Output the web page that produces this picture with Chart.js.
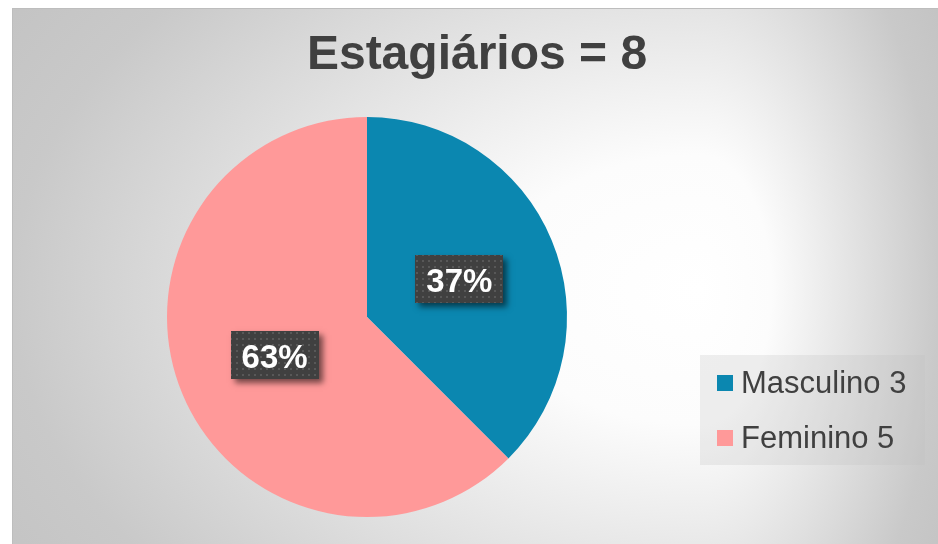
<!DOCTYPE html>
<html>
<head>
<meta charset="utf-8">
<script src="https://cdn.jsdelivr.net/npm/chart.js@4"></script>
<style>
  html, body { margin: 0; padding: 0; background: #fff; }
  #wrap { width: 938px; height: 544px; }
</style>
</head>
<body>
<div id="wrap"><canvas id="grafico" width="938" height="544"></canvas></div>
<script>
  // ===== Datos =====
  const tituloTexto = "Estagiários = 8";
  const categorias = ["Masculino", "Feminino"];
  const valores = [3, 5];
  const etiquetasPct = ["37%", "63%"];
  const colores = ["#0B87B0", "#FF9999"];

  const FONT = "'Liberation Sans', Arial, sans-serif";

  // patrón punteado para las etiquetas
  function crearPatron(ctx) {
    const c = document.createElement("canvas");
    c.width = 6;
    c.height = 6;
    const p = c.getContext("2d");
    p.fillStyle = "#404040";
    p.fillRect(0, 0, 6, 6);
    p.fillStyle = "#585858";
    p.fillRect(2, 2, 2, 2);
    return ctx.createPattern(c, "repeat");
  }

  // degradado "desde el centro", elíptico, más estrecho a la derecha
  const fondoPlugin = {
    id: "fondo",
    beforeDraw(chart) {
      const ctx = chart.ctx;
      const W = chart.width, H = chart.height;
      const x0 = 12, y0 = 8;
      const cx = 700, cy = 290, ay = 450;
      ctx.save();
      ctx.fillStyle = "#ffffff";
      ctx.fillRect(0, 0, W, H);
      const lados = [
        [x0, cx - x0],
        [cx, W - cx],
      ];
      lados.forEach(([qx, qw]) => {
        ctx.save();
        ctx.beginPath();
        ctx.rect(qx, y0, qw, H - y0);
        ctx.clip();
        ctx.translate(cx, cy);
        ctx.scale(qw, ay);
        const R = 1.3;
        const g = ctx.createRadialGradient(0, 0, 0, 0, 0, R);
        g.addColorStop(0, "#ffffff");
        g.addColorStop(0.3 / R, "#fcfcfc");
        g.addColorStop(1 / R, "#c9c9c9");
        g.addColorStop(1, "#c0c0c0");
        ctx.fillStyle = g;
        ctx.fillRect(-2, -2, 4, 4);
        ctx.restore();
      });
      ctx.strokeStyle = "#bdbdbd";
      ctx.lineWidth = 1;
      ctx.strokeRect(12.5, 8.5, W, H);
      ctx.restore();
    },
  };

  const tituloPlugin = {
    id: "tituloCustom",
    afterDraw(chart) {
      const ctx = chart.ctx;
      ctx.save();
      ctx.fillStyle = "#404040";
      ctx.font = "bold 48px " + FONT;
      ctx.textAlign = "center";
      ctx.textBaseline = "alphabetic";
      ctx.fillText(tituloTexto, 477, 69);
      ctx.restore();
    },
  };

  const etiquetasPlugin = {
    id: "etiquetas",
    afterDatasetsDraw(chart) {
      const ctx = chart.ctx;
      const meta = chart.getDatasetMeta(0);
      const patron = crearPatron(ctx);
      meta.data.forEach((arc, i) => {
        const pos = arc.tooltipPosition();
        const w = 88, h = 48;
        const x = Math.round(pos.x - w / 2), y = Math.round(pos.y - h / 2);
        ctx.save();
        ctx.shadowColor = "rgba(0,0,0,0.55)";
        ctx.shadowBlur = 6;
        ctx.shadowOffsetX = 4;
        ctx.shadowOffsetY = 4;
        ctx.fillStyle = "#404040";
        ctx.fillRect(x, y, w, h);
        ctx.restore();
        ctx.save();
        ctx.fillStyle = patron;
        ctx.fillRect(x, y, w, h);
        ctx.fillStyle = "#ffffff";
        ctx.font = "bold 33px " + FONT;
        ctx.textAlign = "center";
        ctx.textBaseline = "alphabetic";
        ctx.fillText(etiquetasPct[i], pos.x, pos.y + 13);
        ctx.restore();
      });
    },
  };

  const leyendaPlugin = {
    id: "leyendaCustom",
    afterDraw(chart) {
      const ctx = chart.ctx;
      const ds = chart.data.datasets[0];
      ctx.save();
      ctx.fillStyle = "rgba(190,190,190,0.25)";
      ctx.fillRect(700, 355, 225, 110);
      ctx.font = "31px " + FONT;
      ctx.textBaseline = "alphabetic";
      ctx.textAlign = "left";
      chart.data.labels.forEach((lab, i) => {
        const yy = 375 + i * 55;
        ctx.fillStyle = ds.backgroundColor[i];
        ctx.fillRect(717, yy, 16, 16);
        ctx.fillStyle = "#404040";
        ctx.fillText(lab + " " + ds.data[i], 741, yy + 18);
      });
      ctx.restore();
    },
  };

  new Chart(document.getElementById("grafico"), {
    type: "pie",
    data: {
      labels: categorias,
      datasets: [
        {
          data: valores,
          backgroundColor: colores,
          borderWidth: 0,
        },
      ],
    },
    options: {
      responsive: false,
      animation: false,
      layout: { padding: { left: 167, right: 371, top: 117, bottom: 27 } },
      plugins: {
        legend: { display: false },
        title: { display: false },
        tooltip: { enabled: false },
      },
    },
    plugins: [fondoPlugin, tituloPlugin, etiquetasPlugin, leyendaPlugin],
  });
</script>
</body>
</html>
